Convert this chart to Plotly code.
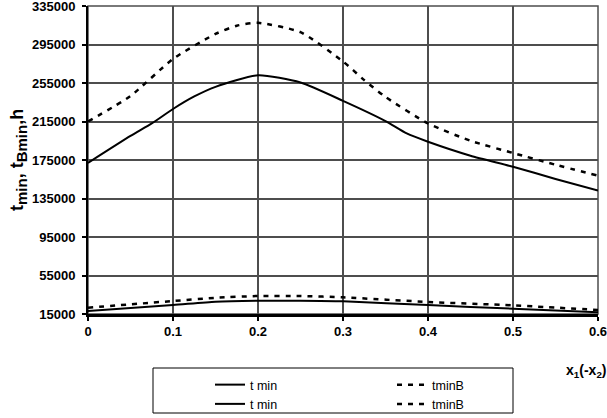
import plotly.graph_objects as go

# ---- data ----
x_up = [0, 0.05, 0.075, 0.1, 0.125, 0.15, 0.2, 0.25, 0.3, 0.35, 0.375, 0.4, 0.45, 0.5, 0.55, 0.6]
tmin_up = [172000, 200000, 213000, 228000, 241000, 251000, 263000, 255500, 236500, 215500,
           202600, 194000, 179500, 168000, 155300, 143200]

x_upB = [0, 0.05, 0.1, 0.15, 0.175, 0.2, 0.25, 0.3, 0.325, 0.35, 0.4, 0.45, 0.5, 0.55, 0.6]
tminB_up = [215000, 241500, 280000, 306000, 314500, 317500, 307800, 277400, 258000, 240500,
            213000, 195000, 182300, 170100, 158700]

x_low = [0, 0.1, 0.15, 0.2, 0.25, 0.3, 0.4, 0.5, 0.6]
tmin_low = [18000, 24300, 27800, 28800, 28800, 28200, 24300, 20500, 16700]
tminB_low = [21500, 28500, 31800, 33700, 33700, 32300, 27500, 24000, 19200]

x_ticks = [0, 0.1, 0.2, 0.3, 0.4, 0.5, 0.6]
x_ticklabels = ["0", "0.1", "0.2", "0.3", "0.4", "0.5", "0.6"]
y_ticks = [15000, 55000, 95000, 135000, 175000, 215000, 255000, 295000, 335000]
y_ticklabels = [str(v) for v in y_ticks]

FONT = "Liberation Sans, Arial, sans-serif"
GRID = "#4d4d4d"
DASH = "5px,6px"
W, H = 607, 418

fig = go.Figure()
fig.add_trace(go.Scatter(x=x_up, y=tmin_up, mode="lines", name="t min",
                         line=dict(color="black", width=2, shape="spline", smoothing=0.6),
                         legend="legend"))
fig.add_trace(go.Scatter(x=x_upB, y=tminB_up, mode="lines", name="tminB",
                         line=dict(color="black", width=2.5, dash=DASH, shape="spline", smoothing=0.6),
                         legend="legend2"))
fig.add_trace(go.Scatter(x=x_low, y=tmin_low, mode="lines", name="t min",
                         line=dict(color="black", width=2, shape="spline", smoothing=0.6),
                         legend="legend"))
fig.add_trace(go.Scatter(x=x_low, y=tminB_low, mode="lines", name="tminB",
                         line=dict(color="black", width=2.5, dash=DASH, shape="spline", smoothing=0.6),
                         legend="legend2"))

fig.update_layout(
    width=W, height=H,
    margin=dict(l=88, r=9, t=6, b=104, autoexpand=False),
    paper_bgcolor="white", plot_bgcolor="white",
    font=dict(family=FONT, color="black", size=12),
    xaxis=dict(range=[0, 0.6], tickvals=x_ticks, ticktext=x_ticklabels,
               showgrid=True, gridcolor=GRID, gridwidth=1.5,
               showline=True, linecolor="black", linewidth=2.5,
               ticks="outside", ticklen=4, tickwidth=1.5, tickcolor="black",
               tickfont=dict(family=FONT, size=13, color="black", weight="bold"),
               ticklabeloverflow="allow", zeroline=False, automargin=False),
    yaxis=dict(range=[15000, 335000], tickvals=y_ticks, ticktext=y_ticklabels,
               showgrid=True, gridcolor=GRID, gridwidth=1.5,
               showline=True, linecolor="black", linewidth=2,
               ticks="outside", ticklen=4, tickwidth=1.5, tickcolor="black",
               ticklabelstandoff=4,
               tickfont=dict(family=FONT, size=13, color="black", weight="bold"),
               ticklabeloverflow="allow", zeroline=False, automargin=False),
    showlegend=True,
    legend=dict(xref="container", yref="container", x=210 / W, y=1 - 370 / H,
                xanchor="left", yanchor="top",
                bgcolor="rgba(0,0,0,0)", font=dict(family=FONT, size=12.5),
                orientation="v", tracegroupgap=0),
    legend2=dict(xref="container", yref="container", x=392 / W, y=1 - 370 / H,
                 xanchor="left", yanchor="top",
                 bgcolor="rgba(0,0,0,0)", font=dict(family=FONT, size=12.5),
                 orientation="v", tracegroupgap=0),
)

# plot-area frame (gray, like the grid) and legend box
fig.add_shape(type="rect", xref="paper", yref="paper", x0=0, x1=1, y0=0, y1=1,
              line=dict(color=GRID, width=1.5), layer="below")
fig.add_shape(type="rect", xref="paper", yref="paper",
              x0=(153 - 88) / 510, x1=(513 - 88) / 510,
              y0=(314 - 413) / 308, y1=(314 - 368) / 308,
              line=dict(color="black", width=1))

SUB = '<sub><span style="font-size:15px">{}</span></sub>'
fig.add_annotation(text="<b>t" + SUB.format("min") + ", t" + SUB.format("Bmin") + ",h</b>",
                   textangle=-90,
                   xref="paper", yref="paper", x=(18 - 88) / 510, y=0.5,
                   xanchor="center", yanchor="middle",
                   showarrow=False, font=dict(family=FONT, size=18, color="black"))
fig.add_annotation(text="<b>x<sub>1</sub>(-x<sub>2</sub>)</b>",
                   xref="paper", yref="paper", x=(564 - 88) / 510, y=(314 - 371) / 308,
                   xanchor="left", yanchor="middle",
                   showarrow=False, font=dict(family=FONT, size=14, color="black"))

fig.write_html("out.html")
